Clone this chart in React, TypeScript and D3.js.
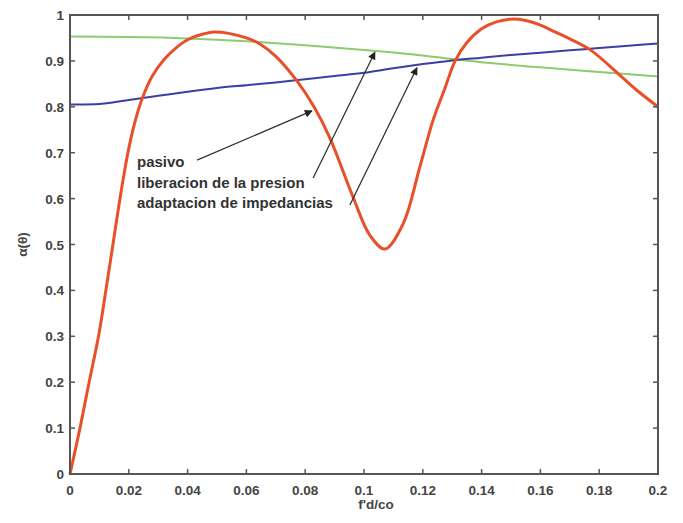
import React from "react";
import * as d3 from "d3";

const xTicks = [0, 0.02, 0.04, 0.06, 0.08, 0.1, 0.12, 0.14, 0.16, 0.18, 0.2];
const yTicks = [0, 0.1, 0.2, 0.3, 0.4, 0.5, 0.6, 0.7, 0.8, 0.9, 1];

const redX = [0, 0.0034, 0.0065, 0.0097, 0.0122, 0.0146, 0.017, 0.0197, 0.022, 0.0245, 0.028, 0.032, 0.036, 0.04, 0.045, 0.049, 0.054, 0.06, 0.0646, 0.07, 0.077, 0.083, 0.0884, 0.0963, 0.102, 0.1071, 0.1133, 0.119, 0.1235, 0.1275, 0.131, 0.135, 0.14, 0.145, 0.15, 0.155, 0.16, 0.165, 0.17, 0.177, 0.187, 0.193, 0.2];
const redY = [0, 0.1, 0.2, 0.3, 0.4, 0.5, 0.6, 0.7, 0.765, 0.817, 0.867, 0.903, 0.928, 0.946, 0.958, 0.963, 0.96, 0.95, 0.937, 0.91, 0.858, 0.8, 0.732, 0.603, 0.52, 0.49, 0.545, 0.669, 0.771, 0.84, 0.9, 0.94, 0.97, 0.985, 0.991, 0.988, 0.978, 0.963, 0.948, 0.924, 0.869, 0.835, 0.8];

const greenX = [0, 0.02, 0.04, 0.06, 0.08, 0.1, 0.12, 0.13, 0.14, 0.16, 0.18, 0.2];
const greenY = [0.953, 0.952, 0.949, 0.943, 0.934, 0.924, 0.912, 0.904, 0.897, 0.886, 0.876, 0.866];

const blueX = [0, 0.01, 0.015, 0.02, 0.03, 0.04, 0.05, 0.06, 0.07, 0.08, 0.09, 0.1, 0.11, 0.12, 0.13, 0.14, 0.15, 0.16, 0.17, 0.18, 0.19, 0.2];
const blueY = [0.805, 0.806, 0.81, 0.815, 0.824, 0.833, 0.841, 0.847, 0.853, 0.86, 0.867, 0.874, 0.884, 0.893, 0.901, 0.907, 0.913, 0.918, 0.923, 0.928, 0.933, 0.938];

const annotLines = ["pasivo", "liberacion de la presion", "adaptacion de impedancias"];
// arrows: [fromX, fromY] -> [toX, toY] in data units
const arrowFrom = [[0.0432, 0.684], [0.0827, 0.645], [0.0952, 0.586]];
const arrowTo = [[0.0823, 0.791], [0.1037, 0.919], [0.118, 0.885]];

const W = 683, H = 523;
const left = 70, right = 658, top = 15, bottom = 474;

export default function App() {
  const x = d3.scaleLinear().domain([0, 0.2]).range([left, right]);
  const y = d3.scaleLinear().domain([0, 1]).range([bottom, top]);
  const line = d3.line<[number, number]>().x(d => x(d[0])).y(d => y(d[1])).curve(d3.curveCatmullRom.alpha(0.5));
  const red = redX.map((v, i) => [v, redY[i]] as [number, number]);
  const green = greenX.map((v, i) => [v, greenY[i]] as [number, number]);
  const blue = blueX.map((v, i) => [v, blueY[i]] as [number, number]);
  const axisColor = "#555";
  const textColor = "#444";
  const font = "Liberation Sans, Arial, sans-serif";
  const fmt = (v: number) => (v === 0 ? "0" : v === 1 ? "1" : String(+v.toFixed(2)));
  const tl = 5;
  return (
    <svg width={W} height={H} style={{ position: "absolute", left: 0, top: 0, background: "#fff" }} fontFamily={font}>
      <defs>
        <marker id="ah" viewBox="0 0 10 10" refX="9" refY="5" markerWidth="7" markerHeight="6" orient="auto">
          <path d="M0,0 L10,5 L0,10 z" fill="#222" />
        </marker>
      </defs>
      <rect x={0} y={0} width={W} height={H} fill="#fff" />
      <path d={line(green) || ""} fill="none" stroke="#8ccb6e" strokeWidth={2} />
      <path d={line(blue) || ""} fill="none" stroke="#3b3ea3" strokeWidth={2} />
      <path d={line(red) || ""} fill="none" stroke="#e8502a" strokeWidth={3} />
      <rect x={left} y={top} width={right - left} height={bottom - top} fill="none" stroke={axisColor} strokeWidth={2} />
      {xTicks.map(t => (
        <g key={"x" + t}>
          <line x1={x(t)} x2={x(t)} y1={bottom} y2={bottom - tl} stroke={axisColor} strokeWidth={1.5} />
          <line x1={x(t)} x2={x(t)} y1={top} y2={top + tl} stroke={axisColor} strokeWidth={1.5} />
          <text x={x(t)} y={bottom + 21} textAnchor="middle" fontSize={13.5} fill={textColor} fontWeight="bold">{fmt(t)}</text>
        </g>
      ))}
      {yTicks.map(t => (
        <g key={"y" + t}>
          <line x1={left} x2={left + tl} y1={y(t)} y2={y(t)} stroke={axisColor} strokeWidth={1.5} />
          <line x1={right} x2={right - tl} y1={y(t)} y2={y(t)} stroke={axisColor} strokeWidth={1.5} />
          <text x={left - 6} y={y(t) + 5} textAnchor="end" fontSize={13.5} fill={textColor} fontWeight="bold">{fmt(t)}</text>
        </g>
      ))}
      <text x={(left + right) / 2 + 12} y={509} textAnchor="middle" fontSize={13.5} fill={textColor} fontWeight="bold">f'd/co</text>
      <text transform={`translate(27,${(top + bottom) / 2}) rotate(-90)`} textAnchor="middle" fontSize={13.5} fill={textColor} fontWeight="bold">α(θ)</text>
      {annotLines.map((s, i) => (
        <text key={s} x={137} y={167 + i * 20.5} fontSize={15} fill="#333" fontWeight="bold">{s}</text>
      ))}
      {arrowFrom.map((f, i) => (
        <line key={"a" + i} x1={x(f[0])} y1={y(f[1])} x2={x(arrowTo[i][0])} y2={y(arrowTo[i][1])} stroke="#333" strokeWidth={1.3} markerEnd="url(#ah)" />
      ))}
    </svg>
  );
}
